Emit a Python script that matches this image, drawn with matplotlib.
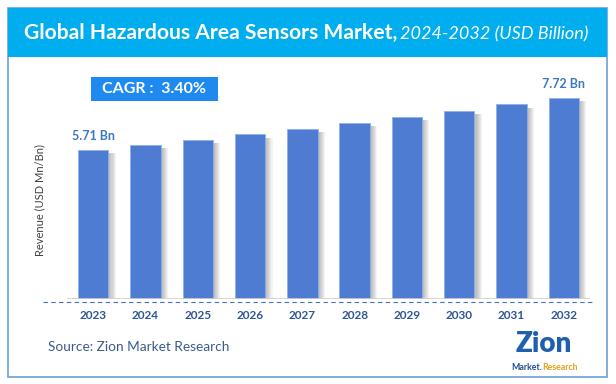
import numpy as np
import matplotlib.pyplot as plt
from matplotlib.patches import Rectangle
from matplotlib.lines import Line2D

years = ['2023', '2024', '2025', '2026', '2027', '2028', '2029', '2030', '2031', '2032']
revenue = [5.71, 5.90, 6.10, 6.31, 6.53, 6.75, 6.98, 7.22, 7.46, 7.72]
first_label = '5.71 Bn'
last_label = '7.72 Bn'
cagr_text = 'CAGR :  3.40%'

W, H = 616, 384
fig = plt.figure(figsize=(W / 100, H / 100), dpi=100)
fig.patch.set_facecolor('white')


def fx(px):
    return px / W


def fy(py):
    return 1 - py / H


def right_edge(t):
    # figure-fraction x of the right edge of a text
    bb = t.get_window_extent(renderer=fig.canvas.get_renderer())
    return bb.x1 / W


# outer frame and title banner
fig.patches.append(Rectangle((fx(8), fy(377)), fx(599), 369 / H, transform=fig.transFigure,
                             facecolor='none', edgecolor='#6A9FD8', linewidth=1.2))
fig.patches.append(Rectangle((fx(8), fy(57)), fx(599), 49 / H, transform=fig.transFigure,
                             facecolor='#00AEEF', edgecolor='none'))

t1 = fig.text(fx(24), fy(33), 'Global Hazardous Area Sensors Market,', color='white',
              fontsize=15.2, fontweight='bold', family='Lato', va='center', ha='left')
fig.text(right_edge(t1) + fx(3), fy(34), '2024-2032 (USD Billion)', color='white',
         fontsize=13, style='italic', family='Lato', va='center', ha='left')

ax = fig.add_axes([fx(67), fy(299), fx(590 - 67), (299 - 65) / H])
x = np.arange(len(years))
width = 0.58

# soft drop shadow to the right of each bar
vals = np.array(revenue)
for k in range(7):
    off = 0.02 + k * 0.02
    ax.bar(x + off, vals - 0.12, width, color='#555555', alpha=0.07, zorder=1, linewidth=0)

ax.bar(x, vals, width, color='#4E7CD3', edgecolor='#8FB0E8', linewidth=0.6, zorder=3)

ax.set_xlim(-0.5, len(years) - 0.5)
ax.set_ylim(0, 8.97)
for s in ax.spines.values():
    s.set_visible(False)
ax.set_xticks([])
ax.set_yticks([])
ax.axhline(0, color='#D0D0D0', linewidth=1.2, zorder=4)

ax.text(x[0], vals[0] + 0.3, first_label, ha='center', va='bottom', color='#3A78C2',
        fontsize=9, fontweight='bold', family='Lato')
ax.text(x[-1], vals[-1] + 0.3, last_label, ha='center', va='bottom', color='#3A78C2',
        fontsize=9, fontweight='bold', family='Lato')

for i, yr in enumerate(years):
    ax.text(x[i], -0.65, yr, ha='center', va='center', color='#2F5597',
            fontsize=8.5, fontweight='bold', family='Lato')

# dashed baseline
fig.lines.append(Line2D([fx(43), fx(592)], [fy(302), fy(302)], transform=fig.transFigure,
                        color='#4472C4', linewidth=0.8, linestyle=(0, (4, 3))))

# CAGR box
fig.patches.append(Rectangle((fx(91), fy(101)), fx(127), 24 / H, transform=fig.transFigure,
                             facecolor='#1E8AF0', edgecolor='none'))
fig.text(fx(154.5), fy(89), cagr_text, color='white', fontsize=11.5, fontweight='bold',
         family='Lato', ha='center', va='center')

fig.text(fx(40), fy(200), 'Revenue (USD Mn/Bn)', rotation=90, color='#404040',
         fontsize=8, family='Lato', ha='center', va='center')

fig.text(fx(48), fy(347), 'Source: Zion Market Research', color='#3B5B8C',
         fontsize=9.8, family='Lato', ha='left', va='center')

# logo as text
fig.text(fx(544), fy(344), 'Zion', color='#1F5FAD', fontsize=20, fontweight='heavy',
         family='Lato', ha='center', va='center')
t2 = fig.text(fx(511), fy(368), 'Market.', color='#1F4E8C', fontsize=6.3, fontweight='bold',
              family='Lato', ha='left', va='center')
fig.text(right_edge(t2), fy(368), 'Research', color='#E3A21A', fontsize=6.3,
         fontweight='bold', family='Lato', ha='left', va='center')

fig.savefig('out.png', dpi=100, facecolor='white')
